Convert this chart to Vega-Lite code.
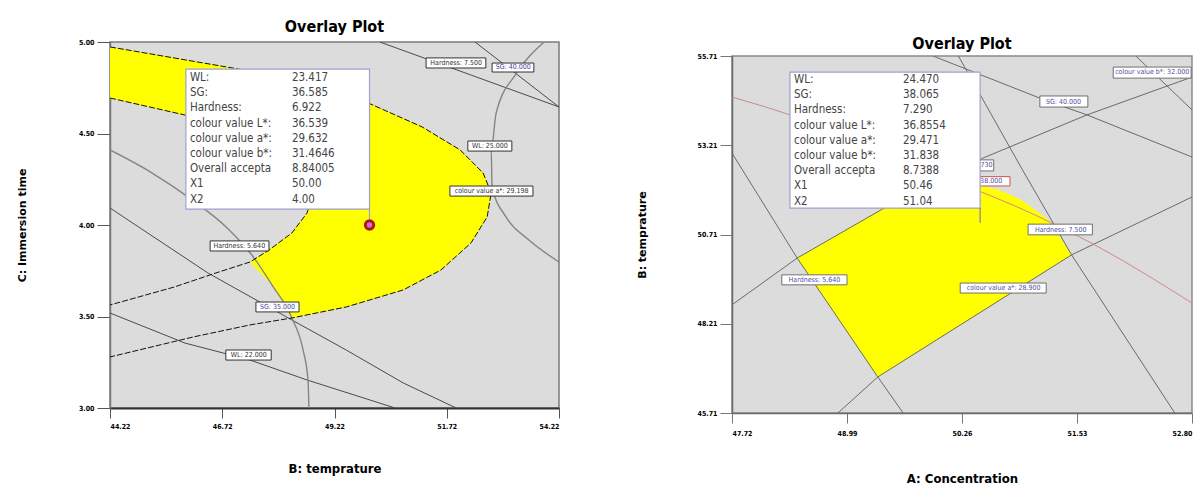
{
  "$schema": "https://vega.github.io/schema/vega-lite/v6.json",
  "padding": {"left": 15, "top": 18, "right": 0, "bottom": 0},
  "background": "white",
  "spacing": 74,
  "datasets": {
    "leftYellow": [
      {"i":0,"x":44.22,"y":4.973},{"i":1,"x":47.09,"y":4.852},{"i":2,"x":49.97,"y":4.667},{"i":3,"x":51.17,"y":4.536},
      {"i":4,"x":52.02,"y":4.41},{"i":5,"x":52.53,"y":4.284},{"i":6,"x":52.71,"y":4.175},{"i":7,"x":52.62,"y":4.044},
      {"i":8,"x":52.26,"y":3.902},{"i":9,"x":51.59,"y":3.754},{"i":10,"x":50.75,"y":3.645},{"i":11,"x":49.48,"y":3.552},
      {"i":12,"x":48.27,"y":3.492},{"i":13,"x":47.83,"y":3.672},{"i":14,"x":47.34,"y":3.798},{"i":15,"x":47.76,"y":3.863},
      {"i":16,"x":48.27,"y":3.956},{"i":17,"x":48.61,"y":4.066},{"i":18,"x":48.72,"y":4.164},{"i":19,"x":48.38,"y":4.328},
      {"i":20,"x":47.38,"y":4.464},{"i":21,"x":45.89,"y":4.601},{"i":22,"x":44.22,"y":4.694}
    ],
    "leftLines": [
      {"c":"Hardness 7.500","i":0,"x":50.23,"y":5.0},{"c":"Hardness 7.500","i":1,"x":54.22,"y":4.645},
      {"c":"SG 40.000","i":0,"x":52.35,"y":5.0},{"c":"SG 40.000","i":1,"x":54.22,"y":4.645},
      {"c":"WL 25.000","i":0,"x":53.89,"y":5.0},{"c":"WL 25.000","i":1,"x":53.28,"y":4.831},{"c":"WL 25.000","i":2,"x":52.82,"y":4.612},
      {"c":"WL 25.000","i":3,"x":52.71,"y":4.41},{"c":"WL 25.000","i":4,"x":52.73,"y":4.208},{"c":"WL 25.000","i":5,"x":53.04,"y":4.044},
      {"c":"WL 25.000","i":6,"x":53.55,"y":3.918},{"c":"WL 25.000","i":7,"x":54.22,"y":3.798},
      {"c":"SG 35.000","i":0,"x":44.22,"y":4.41},{"c":"SG 35.000","i":1,"x":45.16,"y":4.284},{"c":"SG 35.000","i":2,"x":46.05,"y":4.137},
      {"c":"SG 35.000","i":3,"x":46.83,"y":3.984},{"c":"SG 35.000","i":4,"x":47.38,"y":3.836},{"c":"SG 35.000","i":5,"x":47.83,"y":3.672},
      {"c":"SG 35.000","i":6,"x":48.27,"y":3.492},{"c":"SG 35.000","i":7,"x":48.52,"y":3.317},{"c":"SG 35.000","i":8,"x":48.63,"y":3.153},
      {"c":"SG 35.000","i":9,"x":48.65,"y":3.0},
      {"c":"Hardness 6.000","i":0,"x":44.22,"y":4.093},{"c":"Hardness 6.000","i":1,"x":46.4,"y":3.738},{"c":"Hardness 6.000","i":2,"x":48.27,"y":3.481},
      {"c":"Hardness 6.000","i":3,"x":49.48,"y":3.317},{"c":"Hardness 6.000","i":4,"x":50.75,"y":3.137},{"c":"Hardness 6.000","i":5,"x":51.93,"y":3.0},
      {"c":"WL 22.000","i":0,"x":44.22,"y":3.519},{"c":"WL 22.000","i":1,"x":45.89,"y":3.355},{"c":"WL 22.000","i":2,"x":47.34,"y":3.262},
      {"c":"WL 22.000","i":3,"x":48.61,"y":3.153},{"c":"WL 22.000","i":4,"x":50.57,"y":3.0},
      {"c":"a* 29.198","i":0,"x":44.22,"y":4.973},{"c":"a* 29.198","i":1,"x":47.09,"y":4.852},{"c":"a* 29.198","i":2,"x":49.97,"y":4.667},
      {"c":"a* 29.198","i":3,"x":51.17,"y":4.536},{"c":"a* 29.198","i":4,"x":52.02,"y":4.41},{"c":"a* 29.198","i":5,"x":52.53,"y":4.284},
      {"c":"a* 29.198","i":6,"x":52.71,"y":4.175},{"c":"a* 29.198","i":7,"x":52.62,"y":4.044},{"c":"a* 29.198","i":8,"x":52.26,"y":3.902},
      {"c":"a* 29.198","i":9,"x":51.59,"y":3.754},{"c":"a* 29.198","i":10,"x":50.75,"y":3.645},{"c":"a* 29.198","i":11,"x":49.48,"y":3.552},
      {"c":"a* 29.198","i":12,"x":48.27,"y":3.492},{"c":"a* 29.198","i":13,"x":47.34,"y":3.454},{"c":"a* 29.198","i":14,"x":46.07,"y":3.388},
      {"c":"a* 29.198","i":15,"x":44.22,"y":3.279},
      {"c":"Hardness 5.640","i":0,"x":44.22,"y":4.694},{"c":"Hardness 5.640","i":1,"x":45.89,"y":4.601},{"c":"Hardness 5.640","i":2,"x":47.38,"y":4.464},
      {"c":"Hardness 5.640","i":3,"x":48.38,"y":4.328},{"c":"Hardness 5.640","i":4,"x":48.72,"y":4.164},{"c":"Hardness 5.640","i":5,"x":48.61,"y":4.066},
      {"c":"Hardness 5.640","i":6,"x":48.27,"y":3.956},{"c":"Hardness 5.640","i":7,"x":47.76,"y":3.863},{"c":"Hardness 5.640","i":8,"x":47.34,"y":3.798},
      {"c":"Hardness 5.640","i":9,"x":46.58,"y":3.738},{"c":"Hardness 5.640","i":10,"x":45.65,"y":3.661},{"c":"Hardness 5.640","i":11,"x":44.22,"y":3.563}
    ],
    "leftLabels": [
      {"t":"Hardness: 7.500","x":51.93,"y":4.885,"x1":51.26,"x2":52.59,"y1":4.913,"y2":4.858},
      {"t":"SG: 40.000","x":53.2,"y":4.861,"x1":52.73,"x2":53.66,"y1":4.885,"y2":4.836},
      {"t":"WL: 25.000","x":52.68,"y":4.432,"x1":52.19,"x2":53.17,"y1":4.459,"y2":4.404},
      {"t":"colour value a*: 29.198","x":52.72,"y":4.186,"x1":51.79,"x2":53.64,"y1":4.213,"y2":4.158},
      {"t":"Hardness: 5.640","x":47.1,"y":3.885,"x1":46.45,"x2":47.76,"y1":3.913,"y2":3.858},
      {"t":"SG: 35.000","x":47.95,"y":3.552,"x1":47.47,"x2":48.43,"y1":3.579,"y2":3.525},
      {"t":"WL: 22.000","x":47.31,"y":3.29,"x1":46.8,"x2":47.81,"y1":3.317,"y2":3.262}
    ],
    "leftInfo": [
      {"k":"WL:","v":"23.417","r":0},{"k":"SG:","v":"36.585","r":1},{"k":"Hardness:","v":"6.922","r":2},
      {"k":"colour value L*:","v":"36.539","r":3},{"k":"colour value a*:","v":"29.632","r":4},{"k":"colour value b*:","v":"31.4646","r":5},
      {"k":"Overall accepta","v":"8.84005","r":6},{"k":"X1","v":"50.00","r":7},{"k":"X2","v":"4.00","r":8}
    ],
    "rightYellow": [
      {"i":0,"x":48.44,"y":50.05},{"i":1,"x":49.4,"y":51.45},{"i":2,"x":50.24,"y":52.52},{"i":3,"x":50.47,"y":52.07},
      {"i":4,"x":50.66,"y":51.96},{"i":5,"x":50.91,"y":51.68},{"i":6,"x":51.21,"y":51.12},{"i":7,"x":51.47,"y":50.14},
      {"i":8,"x":49.33,"y":46.72}
    ],
    "rightLines": [
      {"c":"Hardness 5.640","i":0,"x":47.72,"y":52.99},{"c":"Hardness 5.640","i":1,"x":48.44,"y":50.05},{"c":"Hardness 5.640","i":2,"x":49.33,"y":46.72},{"c":"Hardness 5.640","i":3,"x":49.61,"y":45.71},
      {"c":"a* 28.900","i":0,"x":48.89,"y":45.71},{"c":"a* 28.900","i":1,"x":49.33,"y":46.72},{"c":"a* 28.900","i":2,"x":51.47,"y":50.14},{"c":"a* 28.900","i":3,"x":52.8,"y":51.76},
      {"c":"WL 24.730","i":0,"x":47.72,"y":48.74},{"c":"WL 24.730","i":1,"x":48.44,"y":50.05},{"c":"WL 24.730","i":2,"x":49.4,"y":51.45},{"c":"WL 24.730","i":3,"x":50.49,"y":52.85},{"c":"WL 24.730","i":4,"x":51.64,"y":54.06},{"c":"WL 24.730","i":5,"x":52.8,"y":55.12},
      {"c":"SG 40.000","i":0,"x":49.94,"y":55.71},{"c":"SG 40.000","i":1,"x":51.17,"y":54.48},{"c":"SG 40.000","i":2,"x":51.64,"y":54.06},{"c":"SG 40.000","i":3,"x":52.8,"y":52.88},
      {"c":"Hardness 7.500","i":0,"x":50.22,"y":55.71},{"c":"Hardness 7.500","i":1,"x":50.91,"y":52.6},{"c":"Hardness 7.500","i":2,"x":51.47,"y":50.14},{"c":"Hardness 7.500","i":3,"x":52.61,"y":45.71},
      {"c":"b* 32.000","i":0,"x":52.18,"y":55.71},{"c":"b* 32.000","i":1,"x":52.8,"y":54.2},
      {"c":"SG 38.000","i":0,"x":47.72,"y":54.56},{"c":"SG 38.000","i":1,"x":48.36,"y":54.06},{"c":"SG 38.000","i":2,"x":49.58,"y":52.8},{"c":"SG 38.000","i":3,"x":51.23,"y":51.06},{"c":"SG 38.000","i":4,"x":51.79,"y":50.33},{"c":"SG 38.000","i":5,"x":52.8,"y":48.79}
    ],
    "rightLabels": [
      {"t":"colour value b*: 32.000","x":52.36,"y":55.25,"x1":51.93,"x2":52.79,"y1":55.4,"y2":55.09,"red":false},
      {"t":"SG: 40.000","x":51.38,"y":54.43,"x1":51.12,"x2":51.65,"y1":54.59,"y2":54.28,"red":false},
      {"t":"Hardness: 7.500","x":51.35,"y":50.85,"x1":50.99,"x2":51.7,"y1":51.0,"y2":50.7,"red":false},
      {"t":"Hardness: 5.640","x":48.63,"y":49.44,"x1":48.27,"x2":48.99,"y1":49.58,"y2":49.3,"red":false},
      {"t":"colour value a*: 28.900","x":50.72,"y":49.21,"x1":50.24,"x2":51.19,"y1":49.35,"y2":49.07,"red":false},
      {"t":"WL: 24.730","x":50.4,"y":52.65,"x1":50.19,"x2":50.61,"y1":52.8,"y2":52.49,"red":false},
      {"t":"SG: 38.000","x":50.51,"y":52.2,"x1":50.24,"x2":50.79,"y1":52.33,"y2":52.07,"red":true}
    ],
    "rightInfo": [
      {"k":"WL:","v":"24.470","r":0},{"k":"SG:","v":"38.065","r":1},{"k":"Hardness:","v":"7.290","r":2},
      {"k":"colour value L*:","v":"36.8554","r":3},{"k":"colour value a*:","v":"29.471","r":4},{"k":"colour value b*:","v":"31.838","r":5},
      {"k":"Overall accepta","v":"8.7388","r":6},{"k":"X1","v":"50.46","r":7},{"k":"X2","v":"51.04","r":8}
    ]
  },
  "hconcat": [
    {
      "width": 449, "height": 366,
      "title": {"text": "Overlay Plot", "offset": 3},
      "view": {"fill": "#dcdcdc", "stroke": "#7a7a7a", "strokeWidth": 1.5},
      "layer": [
        {
          "data": {"name": "leftYellow"},
          "mark": {"type": "line", "fill": "#ffff00", "stroke": "#ffff00", "strokeWidth": 0.5, "interpolate": "linear-closed", "clip": true},
          "encoding": {
            "x": {"field": "x", "type": "quantitative", "scale": {"domain": [44.22, 54.22], "nice": false, "zero": false},
              "axis": {"values": [44.22, 46.72, 49.22, 51.72, 54.22], "format": ".2f", "title": "B: temprature", "tickSize": 10, "tickColor": "#555", "domainColor": "#333", "domainWidth": 2, "labelPadding": 4, "titlePadding": 33, "titleFontSize": 13}},
            "y": {"field": "y", "type": "quantitative", "scale": {"domain": [3, 5], "nice": false, "zero": false},
              "axis": {"values": [3, 3.5, 4, 4.5, 5], "format": ".2f", "title": "C: Immersion time", "tickSize": 13, "tickColor": "#555", "domainColor": "#7a7a7a", "domainWidth": 1.5, "labelPadding": 3, "titlePadding": 51, "titleFont": "DejaVu Sans", "titleFontSize": 11}},
            "order": {"field": "i", "type": "quantitative"}
          }
        },
        {
          "data": {"name": "leftLines"},
          "transform": [{"filter": {"field": "c", "oneOf": ["Hardness 7.500", "SG 40.000", "Hardness 6.000", "WL 22.000"]}}],
          "mark": {"type": "line", "color": "#4a4a4a", "strokeWidth": 1, "clip": true},
          "encoding": {"x": {"field": "x", "type": "quantitative"}, "y": {"field": "y", "type": "quantitative"}, "detail": {"field": "c"}, "order": {"field": "i", "type": "quantitative"}}
        },
        {
          "data": {"name": "leftLines"},
          "transform": [{"filter": {"field": "c", "oneOf": ["WL 25.000", "SG 35.000"]}}],
          "mark": {"type": "line", "color": "#858585", "strokeWidth": 1.4, "interpolate": "monotone", "clip": true},
          "encoding": {"x": {"field": "x", "type": "quantitative"}, "y": {"field": "y", "type": "quantitative"}, "detail": {"field": "c"}, "order": {"field": "i", "type": "quantitative"}}
        },
        {
          "data": {"name": "leftLines"},
          "transform": [{"filter": {"field": "c", "oneOf": ["a* 29.198", "Hardness 5.640"]}}],
          "mark": {"type": "line", "color": "#111", "strokeWidth": 1, "strokeDash": [6, 2], "clip": true},
          "encoding": {"x": {"field": "x", "type": "quantitative"}, "y": {"field": "y", "type": "quantitative"}, "detail": {"field": "c"}, "order": {"field": "i", "type": "quantitative"}}
        },
        {
          "data": {"name": "leftLabels"},
          "mark": {"type": "rect", "fill": "white", "stroke": "#333", "strokeWidth": 1},
          "encoding": {"x": {"field": "x1", "type": "quantitative"}, "x2": {"field": "x2"}, "y": {"field": "y1", "type": "quantitative"}, "y2": {"field": "y2"}}
        },
        {
          "data": {"name": "leftLabels"},
          "mark": {"type": "text", "fontSize": 7, "baseline": "middle"},
          "encoding": {"x": {"field": "x", "type": "quantitative"}, "y": {"field": "y", "type": "quantitative"}, "text": {"field": "t"},
            "color": {"condition": {"test": "indexof(datum.t, 'SG') == 0", "value": "#4646a0"}, "value": "#333"}}
        },
        {
          "data": {"values": [{"x1": 45.91, "x2": 50.0, "y1": 4.852, "y2": 4.087}]},
          "mark": {"type": "rect", "fill": "white", "stroke": "#a0a0d0", "strokeWidth": 1.2},
          "encoding": {"x": {"field": "x1", "type": "quantitative"}, "x2": {"field": "x2"}, "y": {"field": "y1", "type": "quantitative"}, "y2": {"field": "y2"}}
        },
        {
          "data": {"name": "leftInfo"},
          "mark": {"type": "text", "align": "left", "baseline": "middle", "dx": 4, "dy": 9, "fontSize": 11.5, "color": "#444"},
          "encoding": {"x": {"datum": 45.91, "type": "quantitative"}, "y": {"datum": 4.852, "type": "quantitative"}, "text": {"field": "k"},
            "yOffset": {"field": "r", "type": "quantitative", "scale": {"domain": [0, 8], "range": [0, 121.6]}}}
        },
        {
          "data": {"name": "leftInfo"},
          "mark": {"type": "text", "align": "left", "baseline": "middle", "dx": 106, "dy": 9, "fontSize": 11.5, "color": "#444"},
          "encoding": {"x": {"datum": 45.91, "type": "quantitative"}, "y": {"datum": 4.852, "type": "quantitative"}, "text": {"field": "v"},
            "yOffset": {"field": "r", "type": "quantitative", "scale": {"domain": [0, 8], "range": [0, 121.6]}}}
        },
        {
          "data": {"values": [{"x": 50.0, "y": 4.087, "y2": 4.03}]},
          "mark": {"type": "rule", "color": "#a0a0d0", "strokeWidth": 1.2},
          "encoding": {"x": {"field": "x", "type": "quantitative"}, "y": {"field": "y", "type": "quantitative"}, "y2": {"field": "y2"}}
        },
        {
          "data": {"values": [{"x": 50.0, "y": 4.0}]},
          "mark": {"type": "point", "filled": true, "fill": "#d070d0", "stroke": "#b01818", "strokeWidth": 3, "size": 70, "opacity": 1},
          "encoding": {"x": {"field": "x", "type": "quantitative"}, "y": {"field": "y", "type": "quantitative"}}
        }
      ]
    },
    {
      "spacing": -13,
      "vconcat": [
        {
          "width": 2, "height": 2,
          "view": {"stroke": null, "fill": null},
          "data": {"values": [{"a": 1}]},
          "mark": {"type": "text", "text": ""},
          "encoding": {}
        },
        {
          "width": 460, "height": 357,
          "title": {"text": "Overlay Plot", "offset": 0},
          "view": {"fill": "#dcdcdc", "stroke": "#8a8a8a", "strokeWidth": 1.5},
          "layer": [
            {
              "data": {"name": "rightYellow"},
              "mark": {"type": "line", "fill": "#ffff00", "stroke": "#ffff00", "strokeWidth": 0.5, "interpolate": "linear-closed", "clip": true},
              "encoding": {
                "x": {"field": "x", "type": "quantitative", "scale": {"domain": [47.72, 52.8], "nice": false, "zero": false},
                  "axis": {"values": [47.72, 48.99, 50.26, 51.53, 52.8], "format": ".2f", "title": "A: Concentration", "tickSize": 10, "tickColor": "#777", "domainColor": "#6a6a6a", "domainWidth": 1.5, "labelPadding": 6, "titlePadding": 36, "titleFontSize": 13}},
                "y": {"field": "y", "type": "quantitative", "scale": {"domain": [45.71, 55.71], "nice": false, "zero": false},
                  "axis": {"values": [45.71, 48.21, 50.71, 53.21, 55.71], "format": ".2f", "title": "B: temprature", "tickSize": 12, "tickColor": "#777", "domainColor": "#6a6a6a", "domainWidth": 1.5, "labelPadding": 3, "titlePadding": 50, "titleFont": "DejaVu Sans", "titleFontSize": 11}},
                "order": {"field": "i", "type": "quantitative"}
              }
            },
            {
              "data": {"name": "rightLines"},
              "transform": [{"filter": {"field": "c", "oneOf": ["Hardness 5.640", "a* 28.900", "WL 24.730", "SG 40.000", "Hardness 7.500", "b* 32.000"]}}],
              "mark": {"type": "line", "color": "#6a6a6a", "strokeWidth": 1, "clip": true},
              "encoding": {"x": {"field": "x", "type": "quantitative"}, "y": {"field": "y", "type": "quantitative"}, "detail": {"field": "c"}, "order": {"field": "i", "type": "quantitative"}}
            },
            {
              "data": {"name": "rightLines"},
              "transform": [{"filter": {"field": "c", "oneOf": ["SG 38.000"]}}],
              "mark": {"type": "line", "color": "#d08888", "strokeWidth": 1, "interpolate": "monotone", "clip": true},
              "encoding": {"x": {"field": "x", "type": "quantitative"}, "y": {"field": "y", "type": "quantitative"}, "detail": {"field": "c"}, "order": {"field": "i", "type": "quantitative"}}
            },
            {
              "data": {"name": "rightLabels"},
              "mark": {"type": "rect", "fill": "white", "strokeWidth": 1, "clip": true},
              "encoding": {"x": {"field": "x1", "type": "quantitative"}, "x2": {"field": "x2"}, "y": {"field": "y1", "type": "quantitative"}, "y2": {"field": "y2"},
                "stroke": {"condition": {"test": "datum.red", "value": "#d05050"}, "value": "#707070"}}
            },
            {
              "data": {"name": "rightLabels"},
              "mark": {"type": "text", "fontSize": 7, "baseline": "middle", "color": "#5050a0", "clip": true},
              "encoding": {"x": {"field": "x", "type": "quantitative"}, "y": {"field": "y", "type": "quantitative"}, "text": {"field": "t"}}
            },
            {
              "data": {"values": [{"x1": 48.36, "x2": 50.46, "y1": 55.26, "y2": 51.45}]},
              "mark": {"type": "rect", "fill": "white", "stroke": "#a0a0d0", "strokeWidth": 1.2},
              "encoding": {"x": {"field": "x1", "type": "quantitative"}, "x2": {"field": "x2"}, "y": {"field": "y1", "type": "quantitative"}, "y2": {"field": "y2"}}
            },
            {
              "data": {"name": "rightInfo"},
              "mark": {"type": "text", "align": "left", "baseline": "middle", "dx": 4, "dy": 8, "fontSize": 11.5, "color": "#444"},
              "encoding": {"x": {"datum": 48.36, "type": "quantitative"}, "y": {"datum": 55.26, "type": "quantitative"}, "text": {"field": "k"},
                "yOffset": {"field": "r", "type": "quantitative", "scale": {"domain": [0, 8], "range": [0, 119]}}}
            },
            {
              "data": {"name": "rightInfo"},
              "mark": {"type": "text", "align": "left", "baseline": "middle", "dx": 113, "dy": 8, "fontSize": 11.5, "color": "#444"},
              "encoding": {"x": {"datum": 48.36, "type": "quantitative"}, "y": {"datum": 55.26, "type": "quantitative"}, "text": {"field": "v"},
                "yOffset": {"field": "r", "type": "quantitative", "scale": {"domain": [0, 8], "range": [0, 119]}}}
            },
            {
              "data": {"values": [{"x": 50.46, "y": 51.45, "y2": 51.04}]},
              "mark": {"type": "rule", "color": "#8080b0", "strokeWidth": 1.2},
              "encoding": {"x": {"field": "x", "type": "quantitative"}, "y": {"field": "y", "type": "quantitative"}, "y2": {"field": "y2"}}
            }
          ]
        }
      ]
    }
  ],
  "config": {
    "font": "Liberation Sans Narrow, DejaVu Sans Condensed, Liberation Sans, sans-serif",
    "text": {"font": "Liberation Sans Narrow, DejaVu Sans Condensed, Liberation Sans, sans-serif"},
    "axis": {"grid": false, "labelFont": "Liberation Sans Narrow, DejaVu Sans Condensed, Liberation Sans, sans-serif", "labelFontSize": 7, "labelFontWeight": "bold", "labelColor": "#000", "titleFont": "Liberation Sans Narrow, DejaVu Sans Condensed, Liberation Sans, sans-serif", "titleFontWeight": "bold", "titleColor": "#000"},
    "title": {"font": "Liberation Sans Narrow, DejaVu Sans Condensed, Liberation Sans, sans-serif", "fontSize": 16, "fontWeight": "bold", "color": "#000"}
  }
}
